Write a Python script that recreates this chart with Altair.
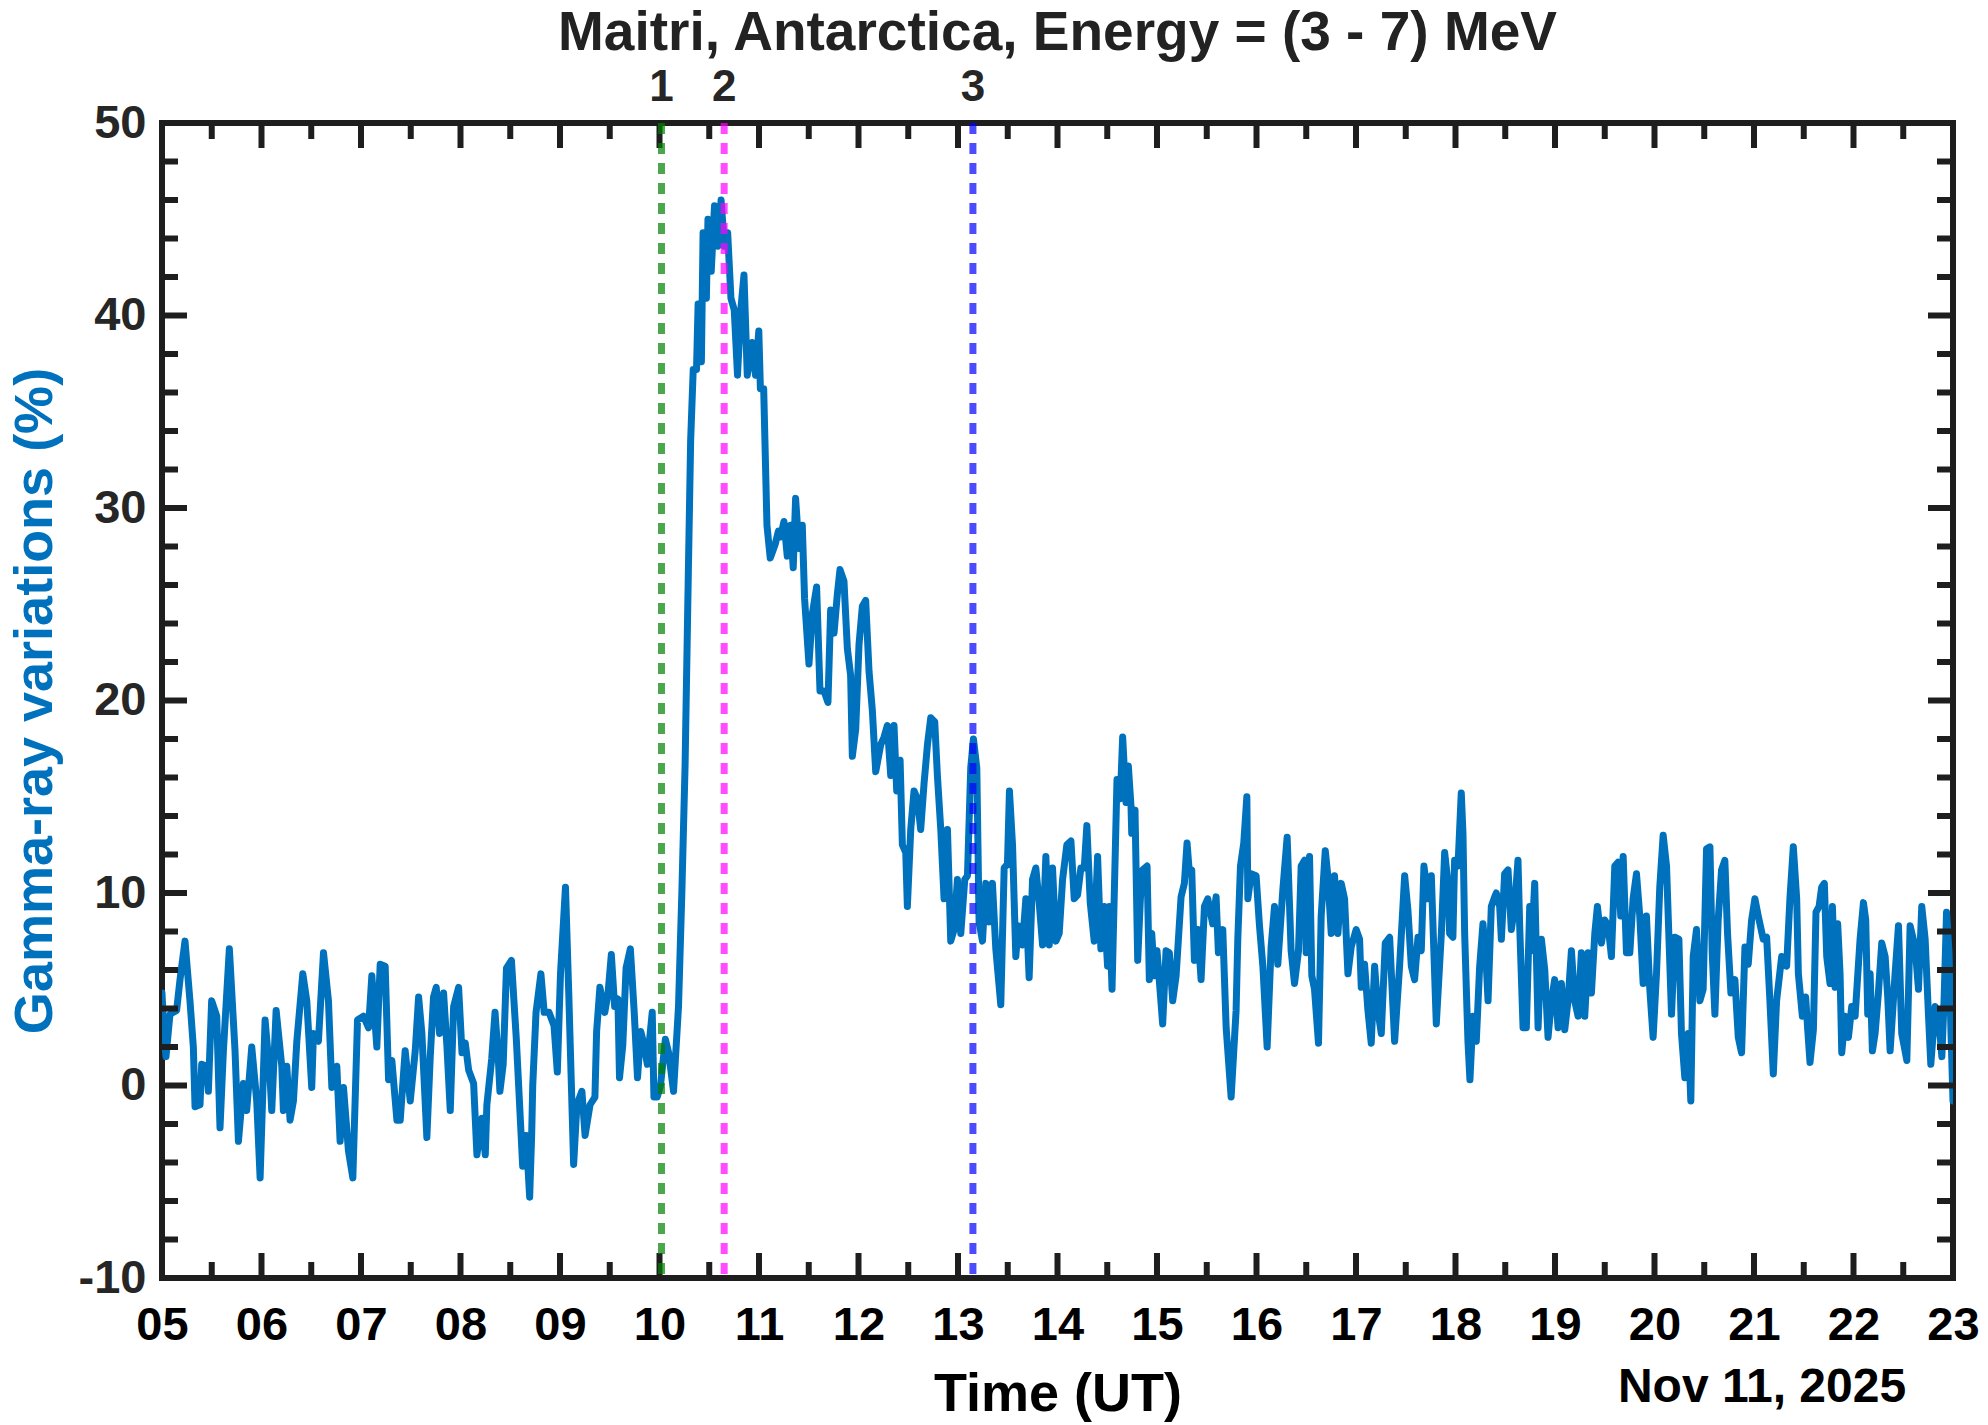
import altair as alt
import pandas as pd

# ---------------- data ----------------
hours = [
    5.00, 5.02, 5.04, 5.08, 5.147, 5.181, 5.231, 5.281, 5.315, 5.332, 5.382, 5.399, 5.449, 5.466, 5.499,
    5.550, 5.583, 5.617, 5.677, 5.734, 5.768, 5.818, 5.851, 5.902, 5.952, 5.986, 6.036, 6.086, 6.103,
    6.147, 6.204, 6.220, 6.254, 6.287, 6.321, 6.355, 6.415, 6.455, 6.505, 6.522, 6.572, 6.623, 6.673,
    6.707, 6.757, 6.790, 6.824, 6.874, 6.918, 6.965, 7.025, 7.076, 7.109, 7.159, 7.193, 7.243, 7.277,
    7.310, 7.361, 7.394, 7.444, 7.495, 7.545, 7.579, 7.612, 7.662, 7.696, 7.729, 7.756, 7.790, 7.830,
    7.864, 7.897, 7.931, 7.981, 8.015, 8.048, 8.082, 8.132, 8.165, 8.216, 8.249,
    8.265, 8.314, 8.347, 8.380, 8.396, 8.429, 8.462, 8.512, 8.561, 8.594, 8.625, 8.660, 8.695, 8.715,
    8.726, 8.759, 8.808, 8.841, 8.890, 8.940, 8.973, 9.005, 9.055, 9.088, 9.137, 9.170, 9.220, 9.252,
    9.302, 9.351, 9.368, 9.401, 9.450, 9.483, 9.516, 9.549, 9.582, 9.598, 9.631, 9.664, 9.707, 9.746,
    9.779, 9.812, 9.845, 9.878, 9.895, 9.927, 9.944, 9.977, 10.010, 10.059, 10.092, 10.141, 10.191,
    10.224, 10.257, 10.290, 10.313, 10.339, 10.372, 10.388, 10.421, 10.438, 10.471, 10.487, 10.520,
    10.553, 10.586, 10.619, 10.652, 10.685, 10.718, 10.751, 10.784, 10.817, 10.849, 10.882, 10.932,
    10.965, 10.998, 11.014, 11.047, 11.080, 11.113, 11.162, 11.195,
    11.217, 11.251, 11.284, 11.318, 11.344, 11.368, 11.401, 11.435, 11.458, 11.502, 11.536, 11.579,
    11.613, 11.653, 11.693, 11.720, 11.754, 11.787, 11.814, 11.854, 11.888, 11.921, 11.938, 11.972,
    12.005, 12.039, 12.072, 12.106, 12.139, 12.173, 12.223, 12.257, 12.290, 12.324, 12.357, 12.384,
    12.418, 12.441, 12.475, 12.491, 12.525, 12.558, 12.592, 12.625, 12.659, 12.693, 12.726, 12.766,
    12.793, 12.827, 12.860, 12.894, 12.927, 12.961, 12.994, 13.028, 13.068, 13.095, 13.128, 13.155,
    13.189, 13.212, 13.246, 13.279, 13.313, 13.346, 13.380, 13.430, 13.464, 13.497, 13.517, 13.548,
    13.581, 13.605, 13.648, 13.682, 13.715, 13.749, 13.782, 13.816, 13.850, 13.883, 13.917, 13.950,
    13.984, 14.017, 14.051, 14.094, 14.135, 14.168, 14.202, 14.235, 14.269, 14.295, 14.329, 14.369,
    14.403, 14.436, 14.470, 14.503,
    14.521, 14.548, 14.598, 14.631, 14.655, 14.689, 14.712, 14.739, 14.746, 14.779, 14.806, 14.833,
    14.856, 14.900, 14.923, 14.947, 14.974, 15.000, 15.057, 15.091, 15.124, 15.158, 15.192, 15.242,
    15.275, 15.302, 15.326, 15.349, 15.376, 15.410, 15.443, 15.477, 15.510, 15.560, 15.594, 15.617,
    15.661, 15.695, 15.745, 15.795, 15.812, 15.839, 15.872, 15.903, 15.913, 15.946, 15.996, 16.030,
    16.064, 16.107, 16.147, 16.181, 16.214, 16.265, 16.308, 16.348, 16.382, 16.422, 16.449, 16.483,
    16.499, 16.533, 16.556, 16.583, 16.623, 16.650, 16.691, 16.717, 16.751, 16.784, 16.818, 16.851,
    16.885, 16.919, 16.952, 17.002, 17.036, 17.053, 17.086, 17.120, 17.153, 17.187, 17.220, 17.254,
    17.294, 17.338, 17.388, 17.438, 17.489, 17.522, 17.556, 17.589, 17.623, 17.656, 17.683, 17.723,
    17.757, 17.807, 17.858, 17.891, 17.925,
    17.941, 17.974, 17.991, 18.025, 18.058, 18.075, 18.092, 18.125, 18.145, 18.176, 18.209, 18.243,
    18.276, 18.310, 18.327, 18.360, 18.394, 18.410, 18.444, 18.461, 18.494, 18.528, 18.561, 18.595,
    18.628, 18.645, 18.679, 18.712, 18.746, 18.762, 18.796, 18.830, 18.863, 18.897, 18.930, 18.964,
    18.997, 19.031, 19.064, 19.098, 19.131, 19.165, 19.198, 19.232, 19.265, 19.299, 19.333, 19.366,
    19.400, 19.426, 19.467, 19.500, 19.534, 19.567, 19.601, 19.634, 19.661, 19.685, 19.718, 19.752,
    19.785, 19.819, 19.852, 19.886, 19.919, 19.953, 19.986, 20.020, 20.053, 20.087, 20.121, 20.171,
    20.204, 20.245, 20.271, 20.305, 20.339, 20.365, 20.389, 20.422, 20.456, 20.489, 20.523, 20.557,
    20.580, 20.607, 20.640, 20.674, 20.707, 20.734, 20.768, 20.808, 20.842, 20.875, 20.909, 20.942,
    20.976, 21.009, 21.043, 21.093, 21.127, 21.160, 21.194, 21.227, 21.278, 21.328, 21.361, 21.395,
    21.429, 21.446,
    21.486, 21.519, 21.540, 21.563, 21.597, 21.623, 21.654, 21.680, 21.707, 21.731, 21.764, 21.788,
    21.815, 21.841, 21.865, 21.882, 21.915, 21.949, 21.982, 22.016, 22.066, 22.100, 22.123, 22.143,
    22.167, 22.190, 22.217, 22.250, 22.284, 22.318, 22.344, 22.368, 22.418, 22.452, 22.485, 22.536,
    22.569, 22.619, 22.653, 22.686, 22.720, 22.754, 22.777, 22.821, 22.854, 22.888, 22.910, 22.935,
    22.960, 22.980, 23.000,
]

gamma = [
    4.8, 2.7, 1.5, 3.7, 3.9, 5.5, 7.5, 4.4, 2.0, -1.1, -1.0, 1.1, 1.0, -0.3, 4.4,
    3.6, -2.2, 1.8, 7.1, 1.8, -2.9, 0.1, -1.3, 2.0, -0.8, -4.8, 3.4, 0.4, -1.3,
    3.9, 1.0, -1.3, 1.0, -1.8, -0.8, 2.3, 5.8, 4.4, -0.1, 2.7, 2.3, 6.9, 4.4,
    -0.1, 1.0, -2.9, -0.1, -3.4, -4.8, 3.4, 3.6, 3.0, 5.7, 2.0, 6.3, 6.2, 0.3,
    1.3, -1.8, -1.8, 1.8, -0.8, 1.8, 4.6, 2.7, -2.7, 1.5, 4.6, 5.1, 2.7, 4.8,
    2.0, -1.3, 4.1, 5.1, 1.7, 2.2, 0.8, 0.1, -3.6, -1.7, -3.6,
    -1.0, 1.4, 3.8, 1.4, -0.3, 1.1, 6.1, 6.5, 2.4, -1.0, -4.2, -2.6, -5.8, -2.6,
    0.0, 3.8, 5.8, 3.8, 3.8, 3.1, 0.7, 5.8, 10.3, 4.8, -4.1, -1.0, -0.3, -2.6,
    -1.0, -0.6, 2.8, 5.1, 3.8, 4.8, 6.8, 4.1, 4.5, 0.4, 2.1, 6.1, 7.1, 3.8,
    0.4, 2.8, 2.1, 1.1, 2.1, 3.8, -0.6, -0.6, 0.0, 2.4, 1.7, -0.3, 4.1,
    9.9, 16.6, 26.7, 33.5, 37.2, 37.2, 40.6, 37.6, 44.3, 40.9, 45.0, 42.3,
    45.7, 43.6, 46.0, 43.6, 44.3, 40.9, 40.3, 36.9, 40.3, 42.1, 36.9, 38.6,
    36.9, 39.2, 36.2, 36.2, 29.1, 27.4, 28.1, 28.8,
    28.5, 29.3, 27.5, 29.1, 26.9, 30.5, 27.9, 29.1, 25.3, 21.9, 24.5, 25.9,
    20.5, 20.5, 19.9, 24.7, 23.5, 25.5, 26.8, 26.2, 22.7, 21.3, 17.1, 18.5,
    22.9, 24.9, 25.2, 21.5, 19.5, 16.3, 17.7, 18.1, 18.7, 16.1, 18.7, 15.3,
    16.9, 12.5, 12.1, 9.3, 13.3, 15.3, 14.9, 13.3, 15.7, 17.7, 19.1, 18.9,
    16.1, 13.3, 9.7, 13.3, 7.5, 8.1, 10.7, 7.9, 10.7, 10.9, 16.5, 18.0,
    16.5, 8.5, 7.5, 10.5, 8.5, 10.5, 7.1, 4.2, 11.3, 11.5, 15.3, 12.5,
    6.7, 8.3, 7.3, 9.7, 5.6, 10.7, 11.3, 9.5, 7.3, 11.9, 7.3, 11.3,
    7.5, 7.9, 10.7, 12.5, 12.7, 9.7, 9.9, 11.3, 11.3, 13.5, 9.5, 7.5,
    11.9, 7.1, 9.3, 6.2,
    9.3, 5.0, 15.9, 14.9, 18.1, 14.7, 16.6, 14.5, 13.1, 14.3, 6.5, 9.7,
    11.2, 11.4, 5.5, 7.9, 5.7, 7.0, 3.2, 7.0, 6.9, 4.4, 5.7, 9.8,
    10.5, 12.6, 11.0, 11.2, 6.5, 8.1, 5.5, 9.3, 9.7, 8.4, 9.8, 6.9,
    8.1, 3.0, -0.6, 3.9, 7.6, 11.4, 12.6, 15.0, 9.7, 11.0, 10.9, 8.3,
    6.2, 2.0, 7.2, 9.3, 6.3, 10.2, 12.9, 7.0, 5.3, 7.0, 11.4, 11.7,
    6.9, 11.9, 5.7, 5.0, 2.2, 8.8, 12.2, 10.9, 7.9, 10.9, 7.9, 10.5,
    9.7, 5.8, 7.2, 8.1, 7.6, 5.1, 6.3, 3.9, 2.2, 6.2, 3.9, 2.7,
    7.4, 7.7, 2.3, 6.2, 10.9, 9.1, 6.2, 5.5, 7.7, 7.0, 11.4, 9.7,
    10.9, 3.2, 7.9, 12.1, 10.5,
    7.9, 7.7, 11.7, 11.4, 15.2, 13.1, 7.9, 2.3, 0.3, 3.6, 2.3, 6.2,
    8.4, 6.2, 4.4, 9.3, 9.8, 10.0, 9.3, 7.6, 11.0, 11.2, 8.1, 9.3,
    11.7, 8.3, 3.0, 3.0, 9.3, 7.0, 10.5, 3.0, 7.6, 6.0, 2.5, 4.4,
    5.5, 3.0, 5.3, 2.9, 4.4, 7.0, 4.4, 3.6, 6.9, 3.6, 6.9, 4.8,
    7.9, 9.3, 7.4, 8.6, 8.3, 6.7, 11.4, 11.6, 8.8, 11.9, 6.9, 6.9,
    9.7, 11.0, 8.8, 5.3, 8.8, 5.0, 2.5, 5.8, 10.3, 13.0, 11.4, 3.7,
    7.7, 7.6, 2.7, 0.4, 2.7, -0.8, 6.7, 8.1, 4.4, 5.0, 12.3, 12.4,
    6.9, 3.7, 8.6, 11.2, 11.7, 7.9, 4.8, 5.5, 2.5, 1.7, 7.2, 6.3,
    8.6, 9.7, 8.8, 7.6, 7.7, 4.4, 0.6, 4.4, 6.7, 6.2, 9.7, 12.4,
    9.7, 5.8,
    3.6, 4.6, 2.9, 1.2, 2.9, 9.0, 9.3, 10.3, 10.5, 6.7, 5.3, 9.3,
    5.1, 8.4, 5.8, 1.7, 3.6, 2.5, 4.1, 3.6, 7.6, 9.5, 8.6, 3.7,
    5.8, 1.8, 2.7, 4.8, 7.4, 6.7, 4.6, 1.8, 5.8, 8.3, 2.7, 1.3,
    8.3, 7.2, 5.0, 9.3, 7.6, 3.6, 1.1, 4.1, 3.6, 1.5, 4.4, 9.0,
    6.9, 2.7, -0.8,
]

event_hours = [10.02, 10.65, 13.15]
event_labels = ["1", "2", "3"]
event_colors = ["#008000", "#FF00FF", "#0000FF"]

x_major = list(range(5, 24))
x_minor = [h + 0.5 for h in range(5, 23)]
y_major = [-10, 0, 10, 20, 30, 40, 50]
y_minor = [v for v in range(-8, 50, 2) if v % 10 != 0]

title_text = "Maitri, Antarctica, Energy = (3 - 7) MeV"
x_title = "Time (UT)"
y_title = "Gamma-ray variations (%)"
date_text = "Nov 11, 2025"

# ---------------- layout / style ----------------
W, H = 1791, 1155
FONT = "Liberation Sans"
AX = "#1e1e1e"
MAJ, MIN = 25, 16
TW = 6

line_df = pd.DataFrame({"hour": hours, "value": gamma})
xmaj_df = pd.DataFrame({"hour": x_major})
xmin_df = pd.DataFrame({"hour": x_minor})
ymaj_df = pd.DataFrame({"value": y_major})
ymin_df = pd.DataFrame({"value": y_minor})
ev_df = pd.DataFrame({"hour": event_hours, "label": event_labels, "color": event_colors})
date_df = pd.DataFrame({"label": [date_text]})

xscale = alt.Scale(domain=[5, 23], nice=False, zero=False)
yscale = alt.Scale(domain=[-10, 50], nice=False, zero=False)

xaxis = alt.Axis(
    values=x_major, grid=False, ticks=False, domain=False,
    labelExpr="datum.value < 10 ? '0' + datum.value : '' + datum.value",
    labelFont=FONT, labelFontSize=47, labelFontWeight="bold", labelColor="#000000",
    labelPadding=24, labelFlush=False, labelOverlap=False,
    title=x_title, titleFont=FONT, titleFontSize=54, titleFontWeight="bold",
    titleColor="#000000", titleBaseline="alphabetic", titleY=132,
)
yaxis = alt.Axis(
    values=y_major, grid=False, ticks=False, domain=False,
    labelExpr="datum.value < 0 ? '-' + abs(datum.value) : '' + datum.value",
    labelFont=FONT, labelFontSize=47, labelFontWeight="bold", labelColor="#262626",
    labelPadding=16, labelFlush=False, labelOverlap=False,
    title=y_title, titleFont=FONT, titleFontSize=54, titleFontWeight="bold",
    titleColor="#0072BD", titleBaseline="alphabetic", titleX=-111,
)


def X():
    return alt.X("hour:Q", scale=xscale, axis=xaxis)


def Y():
    return alt.Y("value:Q", scale=yscale, axis=yaxis)


line = alt.Chart(line_df).mark_line(
    color="#0072BD", strokeWidth=7, strokeJoin="round", strokeCap="round", clip=True
).encode(x=X(), y=Y())


def xticks(df, length):
    bottom = alt.Chart(df).mark_rule(color=AX, strokeWidth=TW).encode(
        x=X(), y=alt.value(H), y2=alt.value(H - length))
    top = alt.Chart(df).mark_rule(color=AX, strokeWidth=TW).encode(
        x=X(), y=alt.value(0), y2=alt.value(length))
    return [bottom, top]


def yticks(df, length):
    left = alt.Chart(df).mark_rule(color=AX, strokeWidth=TW).encode(
        y=Y(), x=alt.value(0), x2=alt.value(length))
    right = alt.Chart(df).mark_rule(color=AX, strokeWidth=TW).encode(
        y=Y(), x=alt.value(W), x2=alt.value(W - length))
    return [left, right]


ticks = xticks(xmaj_df, MAJ) + xticks(xmin_df, MIN) + yticks(ymaj_df, MAJ) + yticks(ymin_df, MIN)

vlines = alt.Chart(ev_df).mark_rule(
    strokeWidth=7, strokeDash=[11, 9], opacity=0.7
).encode(
    x=X(), y=alt.value(0), y2=alt.value(H),
    color=alt.Color("color:N", scale=None, legend=None),
)

ev_text = alt.Chart(ev_df).mark_text(
    font=FONT, fontSize=44, fontWeight="bold", color="#262626",
    baseline="alphabetic", align="center",
).encode(x=X(), y=alt.value(-22), text="label:N")

date_label = alt.Chart(date_df).mark_text(
    font=FONT, fontSize=48, fontWeight="bold", color="#000000",
    baseline="alphabetic", align="center",
).encode(x=alt.value(1600), y=alt.value(H + 124), text="label:N")

chart = alt.layer(line, *ticks, vlines, ev_text, date_label).properties(
    width=W, height=H,
    title=alt.Title(
        title_text, font=FONT, fontSize=55, fontWeight="bold", color="#222222",
        anchor="middle", frame="group", baseline="alphabetic", offset=20, dy=59,
    ),
    autosize=alt.AutoSizeParams(type="none"),
    padding={"left": 162, "top": 123, "right": 35, "bottom": 147},
    background="white",
).configure_view(
    stroke=AX, strokeWidth=6
)

chart.save("out.html", embed_options={"renderer": "svg", "actions": False})
